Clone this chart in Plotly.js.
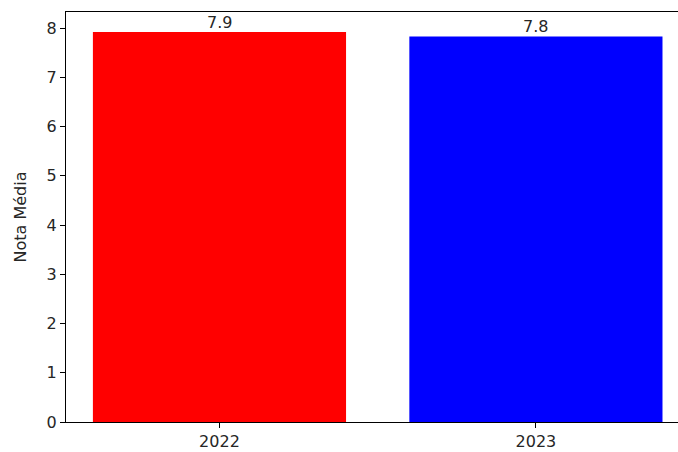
<!DOCTYPE html>
<html>
<head>
<meta charset="utf-8">
<script src="https://cdn.plot.ly/plotly-3.0.1.min.js"></script>
<style>html,body{margin:0;padding:0;background:#fff;}#chart{width:678px;height:452px;}</style>
</head>
<body>
<div id="chart"></div>
<script>
const categories = ["2022", "2023"];
const values = [7.92, 7.83];
const colors = ["#ff0000", "#0000ff"];
const yTicks = [0, 1, 2, 3, 4, 5, 6, 7, 8];

const font = {family: "DejaVu Sans, sans-serif", size: 16, color: "#262626"};

const trace = {
  type: "bar",
  x: [0, 1],
  y: values,
  width: 0.8,
  marker: {color: colors, line: {width: 0}},
  text: values.map(v => v.toFixed(1)),
  textposition: "none",
  hoverinfo: "skip"
};

const annotations = values.map((v, i) => ({
  x: i, y: v, xref: "x", yref: "y",
  text: v.toFixed(1), showarrow: false,
  xanchor: "center", yanchor: "bottom",
  yshift: -2,
  font: font
}));

const layout = {
  width: 678, height: 452,
  margin: {l: 66, r: 0, t: 12, b: 30, pad: 0},
  paper_bgcolor: "#fff", plot_bgcolor: "#fff",
  font: font,
  showlegend: false,
  xaxis: {
    range: [-0.485, 1.449],
    tickvals: [0, 1], ticktext: categories,
    showgrid: false, zeroline: false,
    showline: true, linecolor: "#000", linewidth: 1.1, mirror: true,
    ticks: "outside", ticklen: 5, tickwidth: 1, tickcolor: "#000",
    tickfont: font, fixedrange: true
  },
  yaxis: {
    range: [0, 8.325],
    tickvals: yTicks,
    showgrid: false, zeroline: false,
    showline: true, linecolor: "#000", linewidth: 1.1, mirror: false,
    ticks: "outside", ticklen: 5, tickwidth: 1, tickcolor: "#000",
    tickfont: font,
    title: {text: "Nota Média", font: font, standoff: 15},
    fixedrange: true
  },
  annotations: annotations
};

Plotly.newPlot("chart", [trace], layout, {displayModeBar: false, staticPlot: true});
</script>
</body>
</html>
